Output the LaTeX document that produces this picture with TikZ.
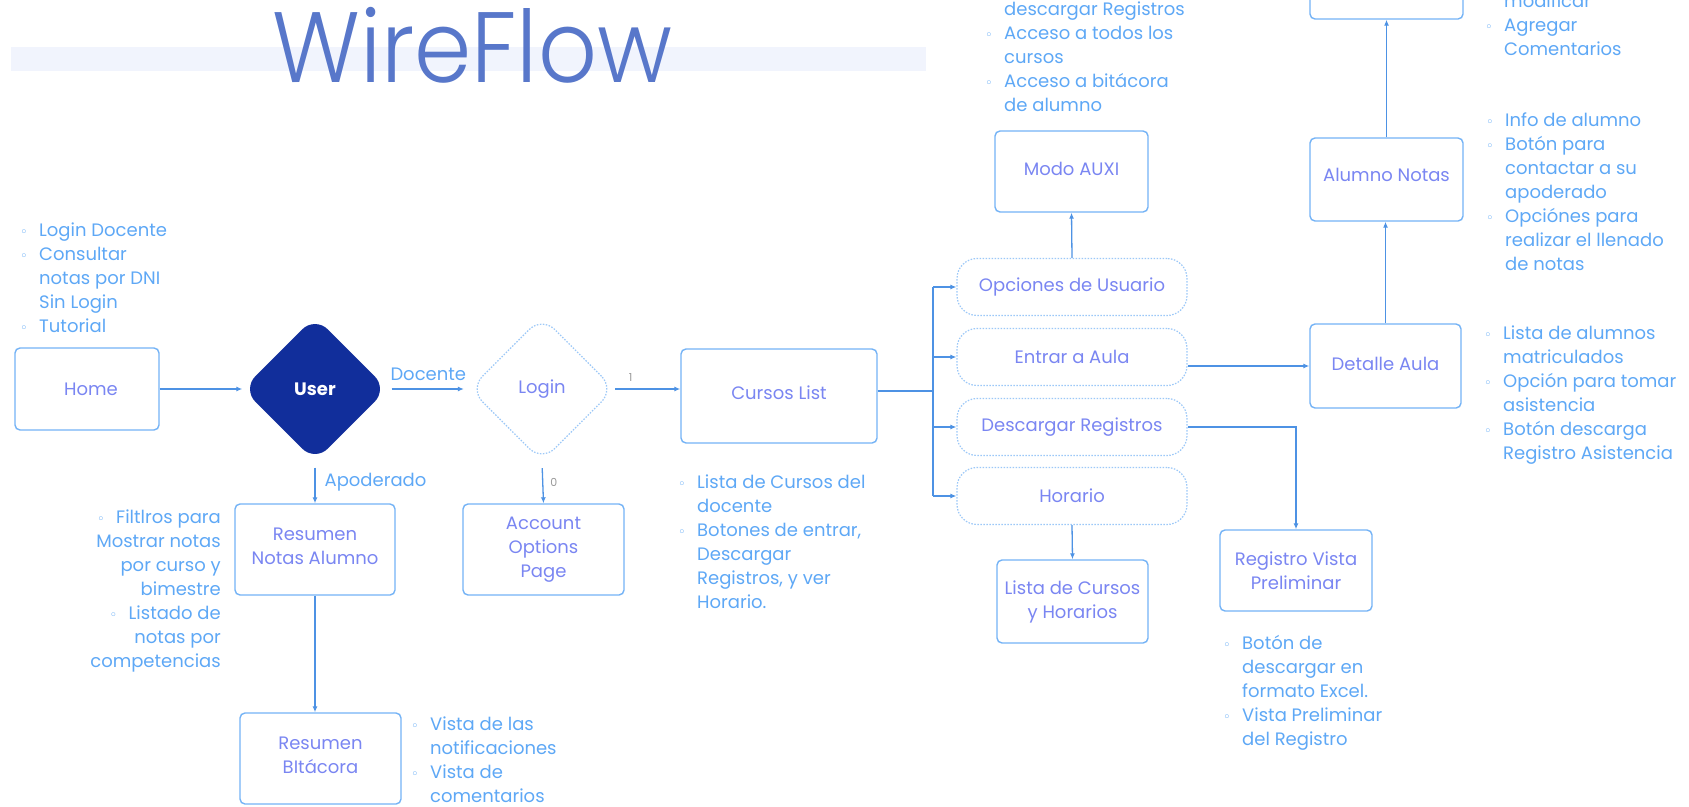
\documentclass[tikz,border=0pt]{standalone}
\usepackage{fontspec}
\setmainfont{Poppins}
\newfontfamily\dejavu{DejaVu Sans}
\IfFontExistsTF{Poppins Light}{\newfontfamily\titlefont{Poppins Light}}{\newfontfamily\titlefont{Poppins}}
\usetikzlibrary{arrows.meta,shapes.geometric,calc}
\definecolor{boxb}{HTML}{74B3F6}
\definecolor{ntext}{HTML}{7A86F2}
\definecolor{btext}{HTML}{5EA8F6}
\definecolor{conn}{HTML}{4D92E4}
\definecolor{navy}{HTML}{112E9B}
\definecolor{dotb}{HTML}{9CC8F8}
\definecolor{bannerc}{HTML}{F1F4FD}
\definecolor{titlec}{HTML}{5877CA}
\newcommand{\bfnt}{\fontsize{18}{24}\selectfont}
\newcommand{\bl}{\strut\makebox[19pt][l]{\hspace{0pt}{\dejavu\fontsize{13}{13}\selectfont ◦}}}
\newcommand{\ct}{\strut\hspace*{19pt}}
\tikzset{
  wbox/.style={draw=boxb, line width=1.4pt, rounded corners=5pt, fill=white, text=ntext, font=\bfnt, align=center, inner sep=0pt},
  optbox/.style={draw=dotb, line width=1.2pt, dash pattern=on 1.5pt off 1.5pt, rounded corners=20pt, fill=white, text=ntext, font=\bfnt, align=center, inner sep=0pt, minimum width=230pt, minimum height=57pt},
  dia/.style={shape=diamond, minimum width=145pt, minimum height=145pt, inner sep=0pt, rounded corners=18pt},
  conn/.style={draw=conn, line width=1.3pt},
  arr/.style={conn, -{Latex[length=6pt,width=5pt]}},
  blist/.style={inner sep=0pt, text=btext, font=\bfnt, align=left, anchor=north west},
  rlist/.style={inner sep=0pt, text=btext, font=\bfnt, align=right, anchor=north east},
  lbl/.style={text=btext, font=\bfnt, inner sep=0pt},
  num/.style={text=gray!80, font=\fontsize{11}{12}\selectfont, inner sep=0pt}
}
\begin{document}
\begin{tikzpicture}[x=1pt,y=-1pt]
\useasboundingbox (0,0) rectangle (1689,806);
\clip (0,0) rectangle (1689,806);
\fill[white] (0,0) rectangle (1689,806);
% title
\fill[bannerc] (11,47) rectangle (926,71);
\node[anchor=base west, inner sep=0pt, text=titlec, font=\titlefont\fontsize{100}{100}\selectfont, xscale=0.92] (title) at (272,82) {WireFlow};

% nodes
\node[wbox, minimum width=144pt, minimum height=82pt] (home) at (87,389) {\hspace*{8pt}Home};
\node[dia, fill=navy, text=white, font=\fontsize{18}{24}\selectfont\bfseries] (user) at (315,389) {User};
\node[dia, draw=dotb, line width=1.2pt, dash pattern=on 1.5pt off 1.5pt, text=ntext, font=\bfnt] (login) at (542,389) {Login};
\node[wbox, minimum width=196pt, minimum height=94pt] (cursos) at (779,396) {Cursos List\\[-18pt]};
\node[wbox, minimum width=161pt, minimum height=91pt] (account) at (543.5,549.5) {Account\\Options\\Page};
\node[wbox, minimum width=160pt, minimum height=91pt] (resnotas) at (315,549.5) {Resumen\\Notas Alumno\\[-17pt]};
\node[wbox, minimum width=161pt, minimum height=91pt] (resbit) at (320.5,758.5) {Resumen\\BItácora\\[-18pt]};

\node[optbox] (opc) at (1072,287) {Opciones de Usuario};
\node[optbox] (ent) at (1072,357) {Entrar a Aula};
\node[optbox] (desc) at (1072,427) {Descargar Registros};
\node[optbox] (hor) at (1072,496) {Horario};

\node[wbox, minimum width=153pt, minimum height=81pt] (modo) at (1071.5,171.5) {Modo AUXI\\[-18pt]};
\node[wbox, minimum width=151pt, minimum height=83pt] (lista) at (1072.5,601.5) {Lista de Cursos\\y Horarios};
\node[wbox, minimum width=151pt, minimum height=84pt] (detalle) at (1385.5,366) {Detalle Aula\\[-20pt]};
\node[wbox, minimum width=152pt, minimum height=81pt] (rvp) at (1296,570.5) {Registro Vista\\Preliminar};
\node[wbox, minimum width=153pt, minimum height=83pt] (alnotas) at (1386.5,179.5) {Alumno Notas\\[-14pt]};
\node[wbox, minimum width=153pt, minimum height=80pt] (topbox) at (1386.5,-21) {};

% connectors
\draw[arr] (home.east |- user.west) -- (user.west);
\draw[arr, shorten <=4pt, shorten >=5pt] (user.east) -- node[lbl, above=8pt] {Docente} (login.west);
\draw[arr] (login.east) -- node[num, pos=0.24, above=7pt] {1} (login.east -| cursos.west);
\draw[arr, shorten <=6pt] (user.south) -- node[lbl, right=9pt] {Apoderado} (resnotas.north);
\draw[arr, shorten <=6pt] (login.south) -- node[num, right=7pt] {0} (account.north);
\draw[arr] (resnotas.south) -- (resnotas.south |- resbit.north);

\coordinate (br) at (933,391);
\draw[conn] (cursos.east |- br) -- (br);
\draw[conn] (br |- opc.west) -- (br |- hor.west);
\draw[arr] (br |- opc.west) -- (opc.west);
\draw[arr] (br |- ent.west) -- (ent.west);
\draw[arr] (br |- desc.west) -- (desc.west);
\draw[arr] (br |- hor.west) -- (hor.west);
\draw[arr] (opc.north) -- (modo.south);
\draw[arr] (hor.south) -- (lista.north);
\draw[arr] (ent.east |- detalle.west) -- (detalle.west);
\draw[arr] (desc.east) -| (rvp.north);
\draw[arr] (detalle.north) -- (detalle.north |- alnotas.south);
\draw[arr] (alnotas.north) -- (topbox.south);

% bullet lists
\node[blist] (l1) at (20,219) {\bl Login Docente\\\bl Consultar\\\ct notas por DNI\\\ct Sin Login\\\bl Tutorial};
\node[rlist] (l2) at (221,506) {\bl Filtlros para\\\strut Mostrar notas\\\strut por curso y\\\strut bimestre\\\bl Listado de\\\strut notas por\\\strut competencias};
\node[blist] (l3) at (411,713) {\bl Vista de las\\\ct notificaciones\\\bl Vista de\\\ct comentarios};
\node[blist] (l4) at (678,471) {\bl Lista de Cursos del\\\ct docente\\\bl Botones de entrar,\\\ct Descargar\\\ct Registros, y ver\\\ct Horario.};
\node[blist] (l5) at (985,-2) {\ct descargar Registros\\\bl Acceso a todos los\\\ct cursos\\\bl Acceso a bitácora\\\ct de alumno};
\node[blist] (l6) at (1223,632) {\bl Botón de\\\ct descargar en\\\ct formato Excel.\\\bl Vista Preliminar\\\ct del Registro};
\node[blist] (l7) at (1485,-10) {\ct modificar\\\bl Agregar\\\ct Comentarios};
\node[blist] (l8) at (1486,109) {\bl Info de alumno\\\bl Botón para\\\ct contactar a su\\\ct apoderado\\\bl Opciónes para\\\ct realizar el llenado\\\ct de notas};
\node[blist] (l9) at (1484,322) {\bl Lista de alumnos\\\ct matriculados\\\bl Opción para tomar\\\ct asistencia\\\bl Botón descarga\\\ct Registro Asistencia};
\end{tikzpicture}
\end{document}
